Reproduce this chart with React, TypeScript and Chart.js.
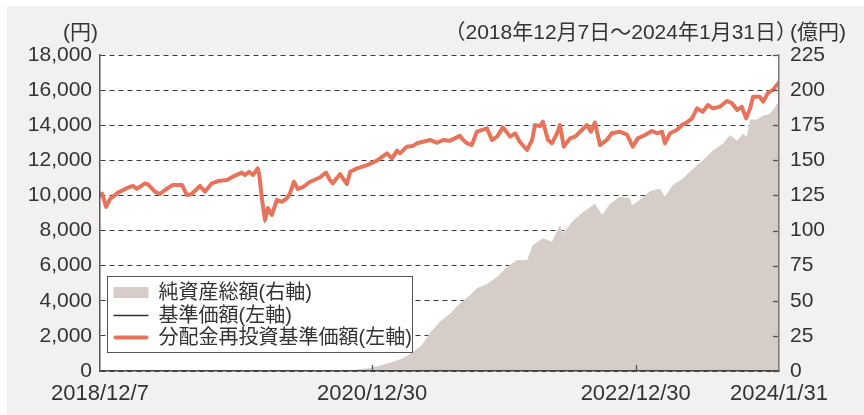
import React, { useEffect, useRef } from 'react';
import { Chart, registerables } from 'chart.js';

Chart.register(...registerables);

// ---- data ----
const startDate = '2018-12-07';

const navDates = [
  '2018-12-07', '2018-12-13', '2018-12-24', '2019-01-04', '2019-01-26', '2019-02-20', '2019-03-08', '2019-03-19',
  '2019-04-11', '2019-04-19', '2019-05-08', '2019-05-22', '2019-06-05', '2019-06-27', '2019-07-22', '2019-08-05',
  '2019-08-18', '2019-09-10', '2019-09-24', '2019-10-13', '2019-10-30', '2019-11-24', '2019-12-10', '2020-01-04',
  '2020-01-13', '2020-01-24', '2020-02-04', '2020-02-17', '2020-02-21', '2020-02-29', '2020-03-08', '2020-03-16',
  '2020-03-27', '2020-04-10', '2020-04-24', '2020-05-08', '2020-05-16', '2020-05-27', '2020-06-07', '2020-06-21',
  '2020-07-11', '2020-08-07', '2020-08-24', '2020-09-04', '2020-09-12', '2020-10-02', '2020-10-21', '2020-10-30',
  '2020-11-18', '2020-12-16', '2021-01-12', '2021-02-09', '2021-02-23', '2021-03-09', '2021-03-17', '2021-04-05',
  '2021-04-22', '2021-05-03', '2021-05-20', '2021-06-08', '2021-06-28', '2021-07-14', '2021-08-03', '2021-08-16',
  '2021-08-30', '2021-09-08', '2021-09-19', '2021-10-02', '2021-10-16', '2021-11-13', '2021-11-27', '2021-12-11',
  '2021-12-27', '2022-01-16', '2022-01-30', '2022-02-12', '2022-03-04', '2022-03-18', '2022-03-26', '2022-04-09',
  '2022-04-17', '2022-05-01', '2022-05-12', '2022-05-26', '2022-06-03', '2022-06-14', '2022-07-01', '2022-07-15',
  '2022-07-29', '2022-08-17', '2022-08-28', '2022-09-08', '2022-09-22', '2022-10-11', '2022-10-25', '2022-11-16',
  '2022-12-06', '2022-12-22', '2023-01-05', '2023-01-25', '2023-02-13', '2023-02-27', '2023-03-13', '2023-03-21',
  '2023-04-04', '2023-04-23', '2023-05-07', '2023-05-21', '2023-06-04', '2023-06-18', '2023-07-04', '2023-07-18',
  '2023-08-01', '2023-08-20', '2023-09-09', '2023-09-23', '2023-10-07', '2023-10-20', '2023-11-01', '2023-11-12',
  '2023-11-20', '2023-12-09', '2023-12-18', '2023-12-31', '2024-01-14', '2024-01-31',
];

// 分配金再投資基準価額 (円)
const reinvestNav = [
  10000, 10100, 9350, 9800, 10160, 10420, 10540, 10370,
  10690, 10630, 10220, 10080, 10310, 10600, 10600, 10020,
  10080, 10540, 10220, 10690, 10820, 10880, 11070, 11300,
  11160, 11350, 11160, 11540, 11200, 9740, 8600, 9280,
  8890, 9740, 9640, 9850, 10100, 10780, 10370, 10480,
  10780, 11020, 11300, 10880, 10690, 11220, 10650, 11350,
  11540, 11730, 11980, 12400, 12110, 12550, 12400, 12780,
  12820, 12970, 13060, 13160, 13000, 13160, 13120, 13250,
  13400, 13160, 12970, 12870, 13630, 13820, 13160, 13350,
  13880, 13350, 13540, 13060, 12590, 13160, 14010, 13950,
  14200, 13160, 12970, 13540, 14010, 12780, 13250, 13350,
  13630, 14010, 13630, 14150, 12870, 13160, 13540, 13630,
  13470, 12780, 13250, 13440, 13670, 13540, 13630, 12970,
  13540, 13730, 14010, 14160, 14390, 14960, 14770, 15150,
  14960, 15050, 15380, 15250, 14870, 15050, 14390, 14960,
  15620, 15620, 15340, 15820, 16010, 16440,
];

// 基準価額 (円) — no distributions paid, identical to the reinvested series
const baseNav = reinvestNav.slice();

const assetDates = [
  '2018-12-07', '2019-09-10', '2020-06-10', '2020-10-30', '2020-11-16', '2020-12-24', '2021-01-21', '2021-02-26',
  '2021-03-25', '2021-04-22', '2021-05-17', '2021-06-08', '2021-07-06', '2021-08-03', '2021-08-30', '2021-09-27',
  '2021-10-16', '2021-11-13', '2021-11-30', '2021-12-11', '2022-01-07', '2022-02-04', '2022-03-04', '2022-03-20',
  '2022-04-17', '2022-05-12', '2022-06-03', '2022-06-12', '2022-07-09', '2022-08-06', '2022-09-08', '2022-09-28',
  '2022-10-20', '2022-11-16', '2022-12-14', '2022-12-20', '2023-01-11', '2023-02-08', '2023-03-07', '2023-03-21',
  '2023-04-12', '2023-05-10', '2023-06-07', '2023-07-04', '2023-08-01', '2023-08-29', '2023-09-17', '2023-10-07',
  '2023-10-23', '2023-11-03', '2023-11-12', '2023-12-01', '2023-12-18', '2024-01-06', '2024-01-20', '2024-01-31',
];

// 純資産総額 (億円)
const netAssets = [
  0.3, 0.3, 0.5, 0.8, 1.0, 2.2, 4.0, 6.6,
  9.0, 13.5, 18.5, 27, 35, 41, 48, 54,
  59, 62, 65, 67, 74, 79, 79, 89.7,
  94.5, 92, 104, 98, 107, 113, 119, 111,
  119, 124, 123, 118, 122, 128, 130, 124,
  132.5, 137, 144, 150, 157, 162, 168, 164,
  169, 167, 179, 179, 182, 183, 188, 192,
];

const xTickDates = ['2018-12-07', '2020-12-30', '2022-12-30', '2024-01-31'];
const xTickLabels = ['2018/12/7', '2020/12/30', '2022/12/30', '2024/1/31'];

const legendLabels = ['純資産総額(右軸)', '基準価額(左軸)', '分配金再投資基準価額(左軸)'];
const periodLabel = '（2018年12月7日～2024年1月31日）';
const leftUnit = '(円)';
const rightUnit = '(億円)';

// ---- styles ----
const FONT = "'Liberation Sans', 'Noto Sans CJK JP', sans-serif";
const ORANGE = '#e6735a';
const AREA = '#d6cdc9';
const TEXT = '#333333';

function dayOf(d: string): number {
  const [y, m, dd] = d.split('-').map(Number);
  const [sy, sm, sd] = startDate.split('-').map(Number);
  return Math.round((Date.UTC(y, m - 1, dd) - Date.UTC(sy, sm - 1, sd)) / 86400000);
}

const decorPlugin = {
  id: 'decor',
  beforeDraw(chart: any) {
    const { ctx, chartArea } = chart;
    const { left, top, right, bottom } = chartArea;
    ctx.save();
    ctx.fillStyle = '#ffffff';
    ctx.fillRect(left, top, right - left, bottom - top);
    ctx.restore();
  },
  afterDatasetsDraw(chart: any) {
    const { ctx, chartArea } = chart;
    const y1 = chart.scales.y1;
    const x = chart.scales.x;
    ctx.save();
    ctx.strokeStyle = '#555';
    ctx.lineWidth = 1.3;
    y1.ticks.forEach((t: any) => {
      const py = Math.round(y1.getPixelForValue(t.value)) + 0.5;
      ctx.beginPath();
      ctx.moveTo(chartArea.right - 6, py);
      ctx.lineTo(chartArea.right, py);
      ctx.stroke();
    });
    x.ticks.forEach((t: any, i: number) => {
      if (i === 0 || i === x.ticks.length - 1) return;
      const px = Math.round(x.getPixelForValue(t.value)) + 0.5;
      ctx.beginPath();
      ctx.moveTo(px, chartArea.bottom - 6);
      ctx.lineTo(px, chartArea.bottom);
      ctx.stroke();
    });
    ctx.restore();
  },
  afterDraw(chart: any) {
    const { ctx, chartArea } = chart;
    ctx.save();
    // header texts
    ctx.fillStyle = TEXT;
    ctx.font = `21px ${FONT}`;
    ctx.textBaseline = 'middle';
    ctx.textAlign = 'right';
    ctx.fillText(leftUnit, chartArea.left - 2, 27);
    ctx.fillText(periodLabel, chartArea.right + 18, 27);
    ctx.textAlign = 'left';
    ctx.fillText(rightUnit, chartArea.right + 11, 27);

    // legend box
    const bx = chartArea.left + 7.5;
    const by = chartArea.bottom - 94.5;
    const bw = 305;
    const bh = 76;
    ctx.fillStyle = '#ffffff';
    ctx.fillRect(bx, by, bw, bh);
    ctx.strokeStyle = '#555';
    ctx.lineWidth = 1;
    ctx.strokeRect(bx, by, bw, bh);

    const rows = [by + 16, by + 39, by + 61];
    ctx.fillStyle = AREA;
    ctx.fillRect(bx + 6, rows[0] - 5.5, 35, 11);
    ctx.strokeStyle = '#333';
    ctx.lineWidth = 1.5;
    ctx.beginPath();
    ctx.moveTo(bx + 6, rows[1]);
    ctx.lineTo(bx + 41, rows[1]);
    ctx.stroke();
    ctx.strokeStyle = ORANGE;
    ctx.lineWidth = 4;
    ctx.lineCap = 'round';
    ctx.beginPath();
    ctx.moveTo(bx + 8, rows[2]);
    ctx.lineTo(bx + 39, rows[2]);
    ctx.stroke();

    ctx.fillStyle = TEXT;
    ctx.font = `20px ${FONT}`;
    ctx.textAlign = 'left';
    ctx.textBaseline = 'middle';
    legendLabels.forEach((l, i) => ctx.fillText(l, bx + 51, rows[i] + 1));
    ctx.restore();
  },
};

export default function App() {
  const ref = useRef<HTMLCanvasElement | null>(null);

  useEffect(() => {
    if (!ref.current) return;
    const navPts = navDates.map((d, i) => ({ x: dayOf(d), y: reinvestNav[i] }));
    const basePts = navDates.map((d, i) => ({ x: dayOf(d), y: baseNav[i] }));
    const assetPts = assetDates.map((d, i) => ({ x: dayOf(d), y: netAssets[i] }));
    const tickDays = xTickDates.map(dayOf);

    const chart = new Chart(ref.current, {
      type: 'line',
      data: {
        datasets: [
          {
            label: legendLabels[2],
            data: navPts,
            yAxisID: 'y',
            borderColor: ORANGE,
            borderWidth: 4,
            pointRadius: 0,
            tension: 0,
            fill: false,
            borderJoinStyle: 'round',
            borderCapStyle: 'round',
            order: 1,
          },
          {
            label: legendLabels[1],
            data: basePts,
            yAxisID: 'y',
            borderColor: '#333',
            borderWidth: 1.5,
            pointRadius: 0,
            tension: 0,
            fill: false,
            order: 2,
          },
          {
            label: legendLabels[0],
            data: assetPts,
            yAxisID: 'y1',
            borderWidth: 0,
            borderColor: AREA,
            backgroundColor: AREA,
            pointRadius: 0,
            tension: 0,
            fill: 'origin',
            order: 3,
          },
        ],
      },
      options: {
        animation: false,
        responsive: false,
        events: [],
        layout: { padding: { top: 49, left: 0, right: 0, bottom: 0 } },
        plugins: {
          legend: { display: false },
          tooltip: { enabled: false },
        },
        scales: {
          x: {
            type: 'linear',
            min: 0,
            max: tickDays[tickDays.length - 1],
            afterBuildTicks: (s: any) => {
              s.ticks = tickDays.map((v) => ({ value: v }));
            },
            afterFit: (s: any) => {
              s.height = 44;
            },
            grid: { display: false, drawTicks: false },
            border: { display: true, color: '#444', width: 1.5, z: 1 },
            ticks: {
              autoSkip: false,
              maxRotation: 0,
              minRotation: 0,
              padding: 10,
              color: TEXT,
              font: { family: FONT, size: 22 },
              callback: (v: any) => {
                const i = tickDays.indexOf(Number(v));
                return i >= 0 ? xTickLabels[i] : '';
              },
            },
          },
          y: {
            position: 'left',
            min: 0,
            max: 18000,
            afterFit: (s: any) => {
              s.width = 93;
            },
            grid: { color: '#3a3a3a', lineWidth: 1, drawTicks: false },
            border: { display: true, color: '#555', width: 1.5, dash: [5, 4], z: 1 },
            ticks: {
              stepSize: 2000,
              padding: 8,
              color: TEXT,
              font: { family: FONT, size: 21 },
              callback: (v: any) => Number(v).toLocaleString('en-US'),
            },
          },
          y1: {
            position: 'right',
            min: 0,
            max: 225,
            afterFit: (s: any) => {
              s.width = 85;
            },
            grid: { drawOnChartArea: false, drawTicks: false },
            border: { display: true, color: '#777', width: 1.5, z: 1 },
            ticks: {
              stepSize: 25,
              padding: 11,
              color: TEXT,
              font: { family: FONT, size: 21 },
            },
          },
        },
      },
      plugins: [decorPlugin],
    } as any);

    return () => chart.destroy();
  }, []);

  return (
    <div
      style={{
        position: 'fixed',
        left: 7,
        top: 6,
        width: 857,
        height: 409,
        background: '#f2f1ef',
      }}
    >
      <canvas ref={ref} width={857} height={409} style={{ display: 'block' }} />
    </div>
  );
}
